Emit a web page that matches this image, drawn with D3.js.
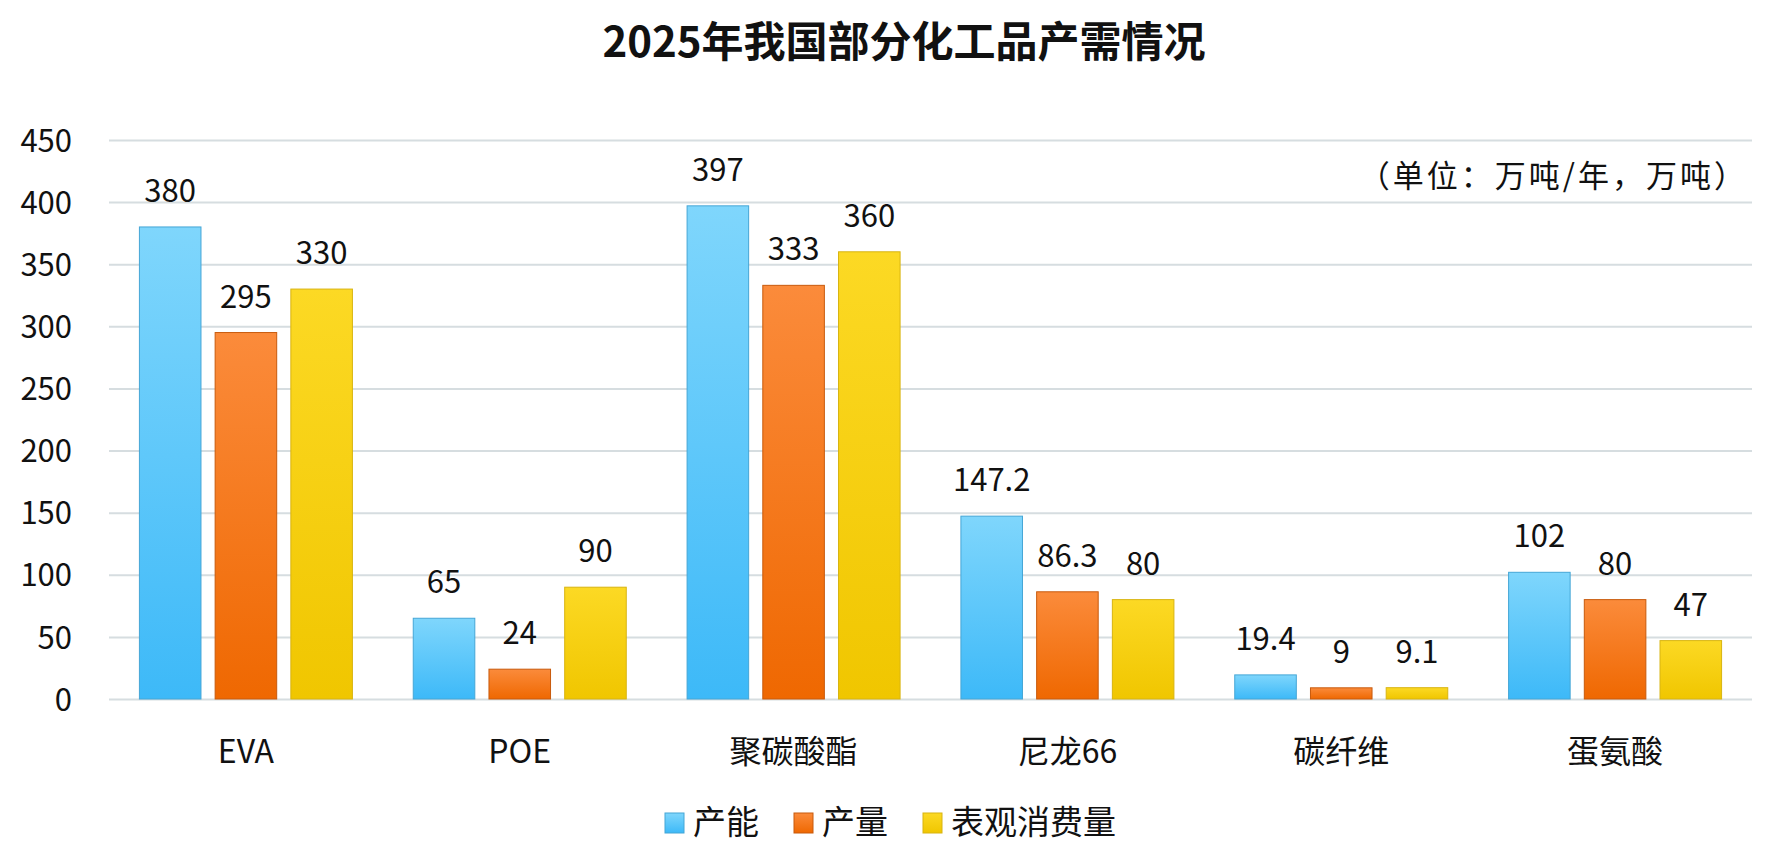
<!DOCTYPE html>
<html lang="zh">
<head>
<meta charset="UTF-8">
<title>2025年我国部分化工品产需情况</title>
<script src="https://d3js.org/d3.v7.min.js"></script>
<style>
  html, body { margin: 0; padding: 0; background: #fff; }
  text { font-family: "Microsoft YaHei", "Noto Sans CJK SC", "Noto Sans", sans-serif; fill: #111; }
</style>
</head>
<body>
<svg id="chart" width="1772" height="864"></svg>
<script>
const categories = ["EVA", "POE", "聚碳酸酯", "尼龙66", "碳纤维", "蛋氨酸"];
const seriesNames = ["产能", "产量", "表观消费量"];
const capacity = [380, 65, 397, 147.2, 19.4, 102];
const production = [295, 24, 333, 86.3, 9, 80];
const consumption = [330, 90, 360, 80, 9.1, 47];
const yTicks = [0, 50, 100, 150, 200, 250, 300, 350, 400, 450];

const seriesValues = [capacity, production, consumption];
const colors = [
  {top: "#7fd6fc", bottom: "#3db9f8", stroke: "#45a6d6"},
  {top: "#fb8b3b", bottom: "#ef6801", stroke: "#c85a0c"},
  {top: "#fcd924", bottom: "#f0c600", stroke: "#d8b410"}
];

const svg = d3.select("#chart");
const plotLeft = 109, plotRight = 1752, plotTop = 140, plotBottom = 699;

// gradients
const defs = svg.append("defs");
colors.forEach((c, i) => {
  const g = defs.append("linearGradient")
    .attr("id", "grad" + i)
    .attr("x1", 0).attr("y1", 0).attr("x2", 0).attr("y2", 1);
  g.append("stop").attr("offset", "0%").attr("stop-color", c.top);
  g.append("stop").attr("offset", "100%").attr("stop-color", c.bottom);
});

// title
svg.append("text")
  .attr("x", 904)
  .attr("y", 57)
  .attr("text-anchor", "middle")
  .style("font-size", "42px")
  .style("font-weight", "bold")
  .text("2025年我国部分化工品产需情况");

const x0 = d3.scaleBand()
  .domain(categories)
  .range([plotLeft, plotRight])
  .padding(0);

const groupW = 213;
const x1 = d3.scaleBand()
  .domain(seriesNames)
  .range([0, groupW])
  .paddingInner(0.187)
  .paddingOuter(0);

const y = d3.scaleLinear()
  .domain([0, 450])
  .range([plotBottom, plotTop]);

// y axis + gridlines
const yAxis = svg.append("g")
  .attr("transform", `translate(${plotLeft},0)`)
  .call(d3.axisLeft(y)
    .tickValues(yTicks)
    .tickSize(-(plotRight - plotLeft))
    .tickPadding(37)
    .tickFormat(d3.format("d")));
yAxis.select(".domain").remove();
yAxis.selectAll(".tick line")
  .attr("stroke", "#d6dde0")
  .attr("stroke-width", 2);
yAxis.selectAll(".tick text")
  .style("font-size", "31px")
  .attr("fill", "#111")
  .attr("dy", "0.36em");

// x axis labels
const xAxis = svg.append("g")
  .attr("transform", `translate(0,${plotBottom})`)
  .call(d3.axisBottom(x0).tickSize(0).tickPadding(0));
xAxis.select(".domain").remove();
xAxis.selectAll(".tick text")
  .attr("y", 64)
  .attr("dy", 0)
  .style("font-size", "32px")
  .attr("fill", "#111");

// bars
const groups = svg.append("g").selectAll("g")
  .data(categories)
  .join("g")
  .attr("transform", d => `translate(${x0(d) + (x0.bandwidth() - groupW) / 2},0)`);

groups.selectAll("rect")
  .data((d, ci) => seriesNames.map((s, si) => ({s, si, v: seriesValues[si][ci]})))
  .join("rect")
  .attr("x", d => x1(d.s))
  .attr("y", d => y(d.v))
  .attr("width", x1.bandwidth())
  .attr("height", d => y(0) - y(d.v))
  .attr("fill", d => `url(#grad${d.si})`)
  .attr("stroke", d => colors[d.si].stroke)
  .attr("stroke-width", 1);

groups.selectAll("text.val")
  .data((d, ci) => seriesNames.map((s, si) => ({s, si, v: seriesValues[si][ci]})))
  .join("text")
  .attr("class", "val")
  .attr("x", d => x1(d.s) + x1.bandwidth() / 2)
  .attr("y", d => y(d.v) - 25)
  .attr("text-anchor", "middle")
  .style("font-size", "31px")
  .text(d => d.v);

// unit note
svg.append("text")
  .attr("x", 1748)
  .attr("y", 187)
  .attr("text-anchor", "end")
  .style("font-size", "31px")
  .style("text-spacing-trim", "space-all")
  .style("letter-spacing", "3px")
  .text("（单位：万吨/年，万吨）");

// legend
const legend = svg.append("g").attr("transform", "translate(665,0)");
let lx = 0;
seriesNames.forEach((name, i) => {
  legend.append("rect")
    .attr("x", lx)
    .attr("y", 813)
    .attr("width", 19)
    .attr("height", 20)
    .attr("fill", `url(#grad${i})`)
    .attr("stroke", colors[i].stroke)
    .attr("stroke-width", 1);
  const t = legend.append("text")
    .attr("x", lx + 28)
    .attr("y", 834)
    .style("font-size", "33px")
    .text(name);
  lx += 28 + t.node().getComputedTextLength() + 35;
});
</script>
</body>
</html>
